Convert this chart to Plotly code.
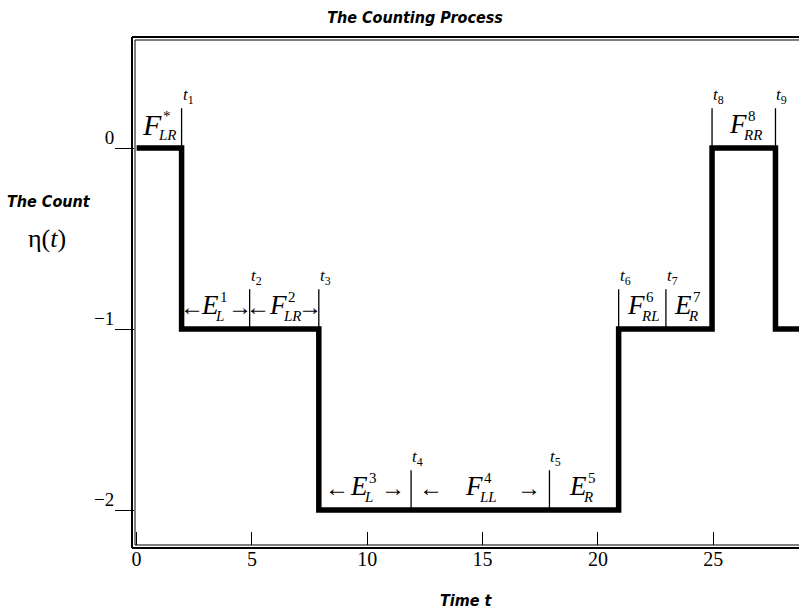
import plotly.graph_objects as go

# ---------------- data ----------------
t_times = [1.95, 4.9, 7.9, 11.9, 17.9, 20.9, 22.95, 24.95, 27.7]
t_names = ["1", "2", "3", "4", "5", "6", "7", "8", "9"]
seg_levels = [0, -1, -1, -2, -2, -2, -1, -1, 0, -1]   # count on each segment
seg_letters = ["F", "E", "F", "E", "F", "E", "F", "E", "F"]
seg_sup = ["*", "1", "2", "3", "4", "5", "6", "7", "8"]
seg_sub = ["LR", "L", "LR", "L", "LL", "R", "RL", "R", "RR"]
seg_arrows = [False, True, True, True, True, False, False, False, False]
x_ticks = [0, 5, 10, 15, 20, 25]
y_ticks = [0, -1, -2]
y_ticktext = ["0", "−1", "−2"]

# ---------------- styling ----------------
SERIF = "Liberation Serif, Times New Roman, serif"
COND = "Liberation Sans Narrow, DejaVu Sans Condensed, Arial Narrow, Liberation Sans, sans-serif"
arrow_offsets = [0, 24, 26, 28, 49, 0, 0, 0, 0]
marker_h = 0.22
x_rng = [-0.07, 28.72]
y_rng = [-2.193, 0.597]
L, T, R, B = 135, 40, 0, 67
W = 799 - L - R
H = 612 - T - B


def px2paper(px, py):
    return (px - L) / W, (612 - B - py) / H


fig = go.Figure()

# step function
step_x = [0] + t_times + [31]
step_y = seg_levels + [seg_levels[-1]]
fig.add_trace(go.Scatter(x=step_x, y=step_y, mode="lines",
                         line=dict(color="black", width=5.5, shape="hv"),
                         hoverinfo="skip", showlegend=False))

# vertical event markers
mx, my, bases = [], [], []
for i, t in enumerate(t_times):
    base = max(seg_levels[i], seg_levels[i + 1])
    bases.append(base)
    mx += [t, t, None]
    my += [base, base + marker_h, None]
fig.add_trace(go.Scatter(x=mx, y=my, mode="lines",
                         line=dict(color="black", width=1.3),
                         hoverinfo="skip", showlegend=False))

ann = []
# t labels
for t, nm, b in zip(t_times, t_names, bases):
    ann.append(dict(x=t, y=b + marker_h, xref="x", yref="y", showarrow=False,
                    text=f"<i>t</i><sub>{nm}</sub>", xanchor="left", yanchor="bottom",
                    xshift=-1, yshift=-1, font=dict(family=SERIF, size=17, color="black")))

# segment labels
bounds = [0] + t_times
for i in range(len(seg_letters)):
    mid = (bounds[i] + bounds[i + 1]) / 2
    lvl = seg_levels[i]
    big = 30 if i == 0 else 27
    ann.append(dict(x=mid, y=lvl, xref="x", yref="y", showarrow=False,
                    text=f"<i>{seg_letters[i]}</i>", xanchor="right", yanchor="middle",
                    xshift=5, yshift=24, font=dict(family=SERIF, size=big, color="black")))
    ann.append(dict(x=mid, y=lvl, xref="x", yref="y", showarrow=False,
                    text=seg_sup[i], xanchor="left", yanchor="middle",
                    xshift=2, yshift=32, font=dict(family=SERIF, size=15, color="black")))
    ann.append(dict(x=mid, y=lvl, xref="x", yref="y", showarrow=False,
                    text=f"<i>{seg_sub[i]}</i>", xanchor="left", yanchor="middle",
                    xshift=-3, yshift=13, font=dict(family=SERIF, size=15, color="black")))
    if seg_arrows[i]:
        off = arrow_offsets[i]
        for sgn, ch in ((-1, "←"), (1, "→")):
            ann.append(dict(x=mid, y=lvl, xref="x", yref="y", showarrow=False,
                            text=ch, xanchor="center", yanchor="middle",
                            xshift=sgn * off, yshift=22,
                            font=dict(family=SERIF, size=24, color="black")))

# axis titles (positions in pixels converted to paper)
x1, y1 = px2paper(49, 202)
ann.append(dict(x=x1, y=y1, xref="paper", yref="paper", showarrow=False,
                text="<b><i>The Count</i></b>", xanchor="center", yanchor="middle",
                font=dict(family=COND, size=16, color="black")))
x2, y2 = px2paper(47, 238)
ann.append(dict(x=x2, y=y2, xref="paper", yref="paper", showarrow=False,
                text="η(<i>t</i>)", xanchor="center", yanchor="middle",
                font=dict(family=SERIF, size=26, color="black")))
x3, y3 = px2paper(466, 600)
ann.append(dict(x=x3, y=y3, xref="paper", yref="paper", showarrow=False,
                text="<b><i>Time t</i></b>", xanchor="center", yanchor="middle",
                font=dict(family=COND, size=16, color="black")))

# frame (double line)
dx = 3 / W
dy = 3 / H
shapes = [
    dict(type="line", xref="paper", yref="paper", x0=-dx, x1=-dx, y0=-dy, y1=1 + dy, line=dict(color="black", width=2)),
    dict(type="line", xref="paper", yref="paper", x0=-dx, x1=1.02, y0=1 + dy, y1=1 + dy, line=dict(color="black", width=2)),
    dict(type="line", xref="paper", yref="paper", x0=-dx, x1=1.02, y0=-dy, y1=-dy, line=dict(color="black", width=2)),
    dict(type="line", xref="paper", yref="paper", x0=0, x1=0, y0=0, y1=1, line=dict(color="black", width=1)),
    dict(type="line", xref="paper", yref="paper", x0=0, x1=1.02, y0=1, y1=1, line=dict(color="black", width=1)),
    dict(type="line", xref="paper", yref="paper", x0=0, x1=1.02, y0=0, y1=0, line=dict(color="black", width=1)),
]

fig.update_layout(
    width=799, height=612,
    margin=dict(l=L, r=R, t=T, b=B),
    paper_bgcolor="white", plot_bgcolor="white",
    showlegend=False,
    shapes=shapes,
    annotations=ann,
    title=dict(text="<b><i>The Counting Process</i></b>", x=415 / 799, xref="container",
               xanchor="center", y=1 - 17 / 612, yref="container", yanchor="middle",
               font=dict(family=COND, size=16, color="black")),
    xaxis=dict(range=x_rng, tickvals=x_ticks, ticktext=[str(v) for v in x_ticks],
               ticks="inside", ticklen=13, tickwidth=1, tickcolor="black",
               showgrid=False, zeroline=False, showline=False,
               tickfont=dict(family=SERIF, size=20, color="black")),
    yaxis=dict(range=y_rng, tickvals=y_ticks, ticktext=y_ticktext,
               ticks="outside", ticklen=19, tickwidth=1, tickcolor="black",
               showgrid=False, zeroline=False, showline=False,
               ticklabelshift=-11, ticklabelstandoff=-3,
               tickfont=dict(family=SERIF, size=19, color="black")),
)

fig.write_html("out.html")
